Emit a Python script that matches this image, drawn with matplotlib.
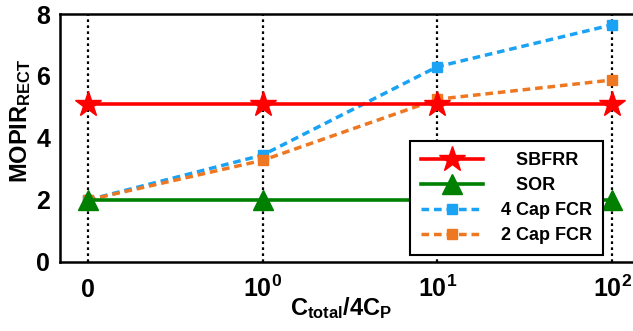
import matplotlib
matplotlib.use("Agg")
import matplotlib.pyplot as plt

plt.rcParams['font.family'] = ['Liberation Sans', 'DejaVu Sans']
plt.rcParams['font.weight'] = 'bold'
plt.rcParams['mathtext.fontset'] = 'custom'
plt.rcParams['mathtext.rm'] = 'Liberation Sans:bold'
plt.rcParams['mathtext.bf'] = 'Liberation Sans:bold'
plt.rcParams['mathtext.it'] = 'Liberation Sans:bold'

# Data
x_labels = ['0', r'$10^{0}$', r'$10^{1}$', r'$10^{2}$']
sbfrr = [5.1, 5.1, 5.1, 5.1]
sor = [2.0, 2.0, 2.0, 2.0]
fcr4 = [2.0, 3.45, 6.3, 7.65]
fcr2 = [2.0, 3.28, 5.25, 5.87]
y_ticks = [0, 2, 4, 6, 8]

xs = list(range(len(x_labels)))

fig = plt.figure(figsize=(6.33, 3.31), dpi=100)
ax = fig.add_axes([0.0948, 0.2085, 0.9052, 0.7492])

# vertical dotted guides at each category
for x in xs:
    ax.plot([x, x], [0, 8], color='black', lw=1.6, ls=(0, (1.2, 1.5)), zorder=1)

ax.plot(xs, sbfrr, color='#ff0000', lw=2.6, marker='*', ms=19,
        label='   SBFRR', zorder=3)
ax.plot(xs, sor, color='#008000', lw=2.6, marker='^', ms=15,
        label='   SOR', zorder=3)
ax.plot(xs, fcr4, color='#1aa3f5', lw=2.5, ls=(0, (2.2, 1.4)), marker='s', ms=7.5,
        label='4 Cap FCR', zorder=2)
ax.plot(xs, fcr2, color='#ee7722', lw=2.5, ls=(0, (2.2, 1.4)), marker='s', ms=7.5,
        label='2 Cap FCR', zorder=2)

ax.set_xlim(-0.16, 3.12)
ax.set_ylim(0, 8)
ax.set_xticks(xs)
ax.set_xticklabels(x_labels)
ax.set_yticks(y_ticks)
ax.tick_params(axis='both', length=0, labelsize=18)
ax.tick_params(axis='x', pad=25)
ax.tick_params(axis='y', pad=7)
for lab in ax.get_xticklabels():
    lab.set_verticalalignment('baseline')
    lab.set_fontweight('bold')
for lab in ax.get_yticklabels():
    lab.set_fontweight('bold')

for side in ['left', 'bottom', 'top']:
    ax.spines[side].set_linewidth(1.8)
ax.spines['right'].set_visible(False)

ax.set_ylabel(r'MOPIR$_{\mathrm{RECT}}$', fontsize=17, fontweight='bold')
ax.yaxis.set_label_coords(-0.047, 0.569)
ax.yaxis.label.set_verticalalignment('bottom')

ax.set_xlabel(r'C$_{\mathrm{total}}$/4C$_{\mathrm{P}}$', fontsize=17, fontweight='bold')
ax.xaxis.set_label_coords(0.49, -0.214)
ax.xaxis.label.set_verticalalignment('baseline')

leg = ax.legend(loc='lower right', bbox_to_anchor=(0.947, 0.028), fontsize=13,
                handlelength=3.4, handletextpad=1.0, labelspacing=0.45,
                borderpad=0.6, numpoints=1, fancybox=False, framealpha=1,
                edgecolor='black', borderaxespad=0)
leg.get_frame().set_linewidth(1.5)
leg.set_zorder(5)
for t in leg.get_texts():
    t.set_fontweight('bold')

fig.savefig('out.png', dpi=100)
